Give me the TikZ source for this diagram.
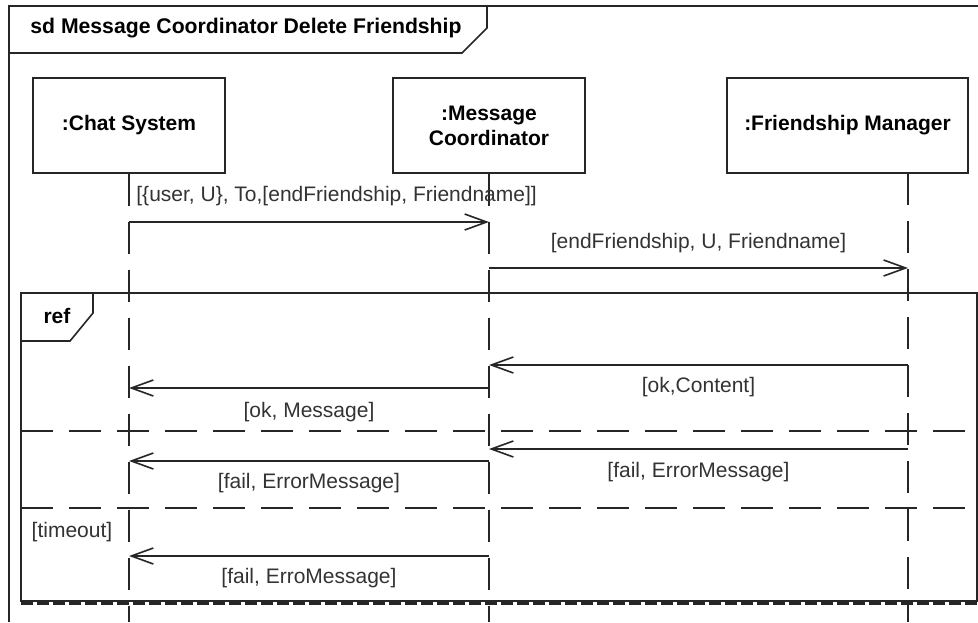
\documentclass[tikz,border=0pt]{standalone}
\usepackage{fontspec}
\setmainfont{Liberation Sans}
\usetikzlibrary{positioning,arrows.meta}
\newcommand\sdfont{\fontsize{10.5}{12.5}\selectfont}
\tikzset{
  headbox/.style={draw=black!85, line width=0.8pt, align=center, font=\sdfont\bfseries,
    minimum width=96pt, minimum height=47.5pt, inner sep=2pt},
  lifeline/.style={draw=black!85, line width=0.8pt, dash pattern=on 16pt off 8pt},
  msgarrow/.style={-{Straight Barb[length=11pt, width=8pt]}, line width=0.8pt, draw=black!85},
  msglabel/.style={font=\sdfont, text=black!80, inner sep=0pt},
  framebox/.style={draw=black!85, line width=0.8pt},
  framesep/.style={framebox, dash pattern=on 16pt off 8pt},
  frametag/.style={font=\sdfont\bfseries, inner sep=0pt},
}

\begin{document}
\begin{tikzpicture}[x=0.5pt, y=-0.5pt]
  \useasboundingbox (0,0) rectangle (978,622);

  % sd frame and its tag
  \draw[framebox] (9,622) -- (9,6) -- (978,6);
  \draw[framebox] (9,53) -- (462,53) -- (487,28) -- (487,6);
  \node[frametag, font=\fontsize{10.6}{12.5}\selectfont\bfseries, anchor=west] (title) at (30,28)
    {sd Message Coordinator Delete Friendship};

  % lifeline heads
  \node[headbox] (chat) at (129,125.5) {:Chat System};
  \node[headbox] (coord) at (489,125.5) {:Message\\Coordinator};
  \node[headbox, minimum width=120.5pt] (fmgr) at (847.5,125.5) {:Friendship Manager};
  \coordinate (fmline) at (908,173);
  \coordinate (bottom) at (0,622);

  \draw[lifeline] (chat.south) -- (chat.south |- bottom);
  \draw[lifeline] (coord.south) -- (coord.south |- bottom);
  \draw[lifeline] (fmline) -- (fmline |- bottom);

  % message rows
  \coordinate (r1) at (0,222);
  \coordinate (r2) at (0,268);
  \coordinate (r3) at (0,365);
  \coordinate (r4) at (0,388);
  \coordinate (r5) at (0,449);
  \coordinate (r6) at (0,461);
  \coordinate (r7) at (0,556);

  \draw[msgarrow] (chat |- r1) -- (coord |- r1);
  \node[msglabel, anchor=west] (m1) at (136,196) {[\{user, U\}, To,[endFriendship, Friendname]]};
  \draw[msgarrow] (coord |- r2) -- node[msglabel, yshift=12.5pt] (m2) {[endFriendship, U, Friendname]} (fmline |- r2);

  % ref fragment
  \draw[framebox] (21,293) rectangle (977,601);
  \draw[line width=1.5pt, black!85, dash pattern=on 6pt off 2pt] (21,603.5) -- (978,603.5);
  \draw[framebox] (21,341) -- (70,341) -- (93,313) -- (93,293);
  \node[frametag] (reftag) at (57,316) {ref};
  \draw[framesep] (21,431) -- (977,431);
  \draw[framesep] (21,508) -- (977,508);
  \node[msglabel] (guard) at (72,532) {[timeout]};

  \draw[msgarrow] (fmline |- r3) -- node[msglabel, yshift=-11pt] (m3) {[ok,Content]} (coord |- r3);
  \draw[msgarrow] (coord |- r4) -- node[msglabel, yshift=-12pt] (m4) {[ok, Message]} (chat |- r4);
  \draw[msgarrow] (fmline |- r5) -- node[msglabel, yshift=-11.5pt] (m5) {[fail, ErrorMessage]} (coord |- r5);
  \draw[msgarrow] (coord |- r6) -- node[msglabel, yshift=-11pt] (m6) {[fail, ErrorMessage]} (chat |- r6);
  \draw[msgarrow] (coord |- r7) -- node[msglabel, yshift=-11pt] (m7) {[fail, ErroMessage]} (chat |- r7);
\end{tikzpicture}
\end{document}
